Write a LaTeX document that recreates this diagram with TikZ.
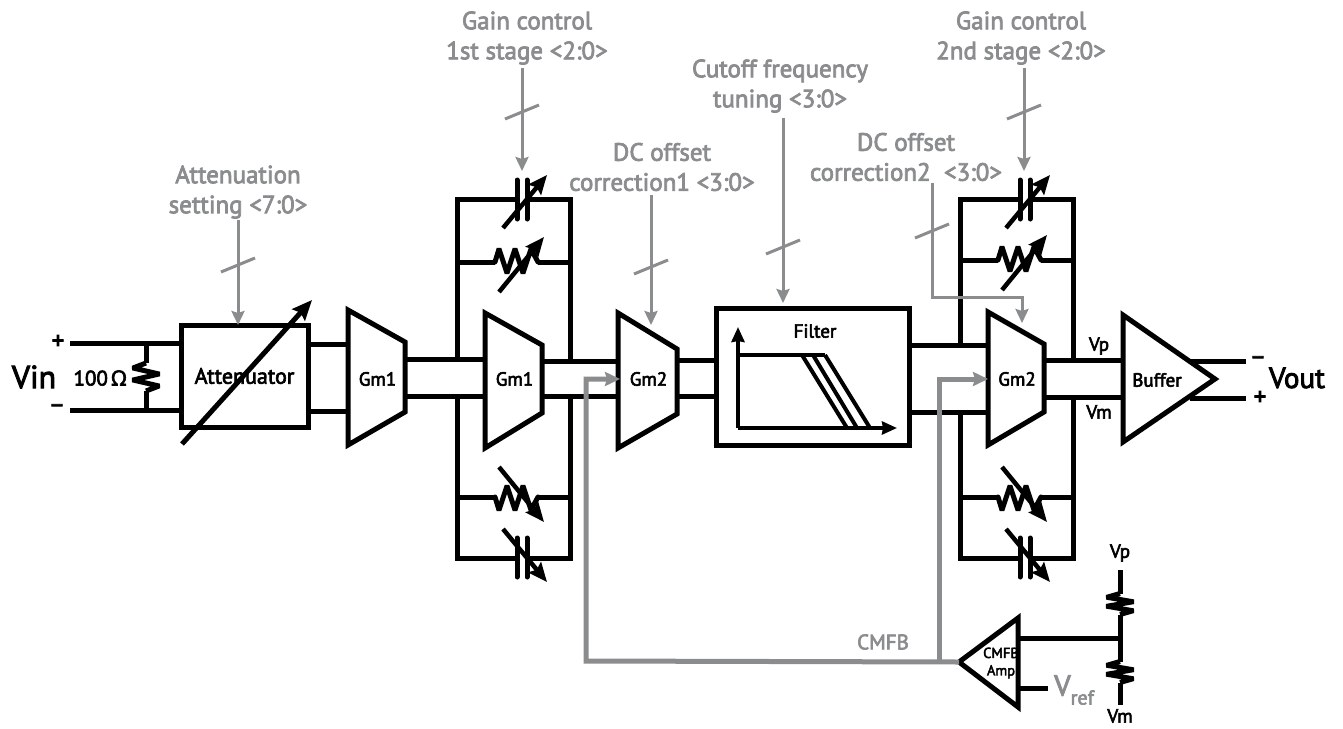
\documentclass[tikz,border=0pt]{standalone}
\usepackage{fontspec}
\setmainfont[FakeBold=3]{PT Sans}
\newfontfamily\omegafont[FakeBold=3]{Noto Sans}
\usetikzlibrary{arrows.meta}
\definecolor{ctrlgray}{HTML}{8A8C8E}
\newcommand{\fsz}[1]{\fontsize{#1}{#1}\selectfont}
\tikzset{
  wire/.style={line width=5pt},
  block/.style={draw,line width=5pt,inner sep=0pt},
  ctrl/.style={draw=ctrlgray,line width=3pt,-{Stealth[length=14pt,width=13pt,inset=2pt]}},
  cmfbline/.style={draw=ctrlgray,line width=5pt,-{Stealth[length=15pt,width=14pt,inset=2pt]}},
  tune/.style={line width=4.5pt,-{Stealth[length=19pt,width=16pt,inset=3pt]}},
  axis/.style={line width=4pt,-{Stealth[length=15pt,width=13pt,inset=1pt]}},
  ctrltext/.style={text=ctrlgray,align=center,font=\fontsize{25}{30}\selectfont,inner sep=0pt},
  amptext/.style={font=\fsz{19},inner sep=0pt},
  pics/varcap/.style={code={
    \coordinate (-a) at (-5,0);
    \coordinate (-b) at (5,0);
    \draw[wire,line cap=round] (-5,-19) -- (-5,20) (5,-19) -- (5,20);
    \draw[tune] (-19,29) -- (25,-24);
  }},
  pics/varres/.style={code={
    \coordinate (-a) at (-21,0);
    \coordinate (-b) at (22,0);
    \draw[wire,rounded corners=1.5pt,line cap=round] (-21,0) -- (-17,-13) -- (-9,11) -- (-1,-13) -- (7,11) -- (15,-13) -- (22,0);
    \draw[tune] (-17,30) -- (28,-25);
  }},
  pics/zigres/.style={code={
    \coordinate (-a) at (0,-14);
    \coordinate (-b) at (0,14);
    \draw[wire,rounded corners=1.5pt] (0,-14) -- (-13,-9) -- (13,-3) -- (-13,3) -- (13,9) -- (0,14);
  }},
  pics/bustick/.style={code={
    \draw[draw=ctrlgray,line width=3pt] (-17,7) -- (17,-7);
  }},
}
\begin{document}
\begin{tikzpicture}[x=1pt,y=-1pt,line join=miter]
  \useasboundingbox (0,0) rectangle (1343,728);
  % input side
  \node[font=\fsz{32},inner sep=0pt] (vin) at (34,377) {Vin};
  \node[font=\fsz{25},inner sep=0pt] (vinplus) at (58,342) {+};
  \node[font=\fsz{25},inner sep=0pt] (vinminus) at (57,409) {−};
  \node[font=\fsz{21},inner sep=0pt] (rload) at (100,378) {100\,{\omegafont Ω}};
  \coordinate (vinp) at (70,343);
  \coordinate (vinm) at (70,410);
  \node[block,minimum width=127pt,minimum height=102pt,font=\fsz{22}] (atten) at (244.5,376) {Attenuator};
  \draw[wire] (vinp) to (vinp -| atten.west);
  \draw[wire] (vinm) to (vinm -| atten.west);
  \coordinate (rp) at (146,343);
  \coordinate (rm) at (146,410);
  \pic (rin) at (146,377) {zigres};
  \draw[wire] (rp) to (rin-a);
  \draw[wire] (rin-b) to (rm);
  \coordinate (attarrow) at (182,444);
  \coordinate (attarrowtip) at (312,300);
  \draw[line width=5pt,-{Stealth[length=20pt,width=17pt,inset=3pt]}] (attarrow) to (attarrowtip);
  % gm stages
  \foreach \n/\xl/\xr/\ya/\yb/\yc/\yd/\ip/\im/\op/\om/\txt in {
      gma/348/405/310/342/412/445/344/411/359/396/Gm1,
      gmb/485/542/313/345/413/448/359/396/361/396/Gm1,
      gmc/618/677/313/349/414/448/361/396/360/396/Gm2,
      gmd/988/1044/312/344/412/445/345/412/360/397/Gm2} {
    \draw[wire] (\xl,\ya) -- (\xr,\yb) -- (\xr,\yc) -- (\xl,\yd) -- cycle;
    \coordinate (\n-ip) at (\xl,\ip);
    \coordinate (\n-im) at (\xl,\im);
    \coordinate (\n-op) at (\xr,\op);
    \coordinate (\n-om) at (\xr,\om);
    \node[amptext] (\n) at ({(\xl+\xr)/2+1},379) {\txt};
  }
  % filter
  \node[block,minimum width=193pt,minimum height=137pt] (filt) at (812.5,376.5) {};
  \node[amptext] (filtname) at (815,331) {Filter};
  \coordinate (axo) at (738,428);
  \coordinate (axy) at (738,327);
  \coordinate (axx) at (897,428);
  \coordinate (flat) at (825,355);
  \coordinate (flato) at (738,355);
  \draw[axis] (axo) to (axy);
  \draw[axis] (axo) to (axx);
  \draw[line width=4pt] (flato) to (flat);
  \foreach \xa/\xb in {802/847,813/857,825/870} {
    \draw[line width=4pt] (\xa,355) -- (\xb,428);
  }
  % buffer
  \coordinate (bufa) at (1123,315);
  \coordinate (bufb) at (1215,379);
  \coordinate (bufc) at (1123,442);
  \draw[wire] (bufa) -- (bufb) -- (bufc) -- cycle;
  \node[amptext] (bufname) at (1157,380) {Buffer};
  \coordinate (bufip) at (1123,360);
  \coordinate (bufim) at (1123,397);
  \coordinate (bufop) at (1190,361);
  \coordinate (bufom) at (1190,398);
  \coordinate (voutm) at (1246,361);
  \coordinate (voutp) at (1246,398);
  \node[font=\fsz{25},inner sep=0pt] (outminus) at (1258,361) {−};
  \node[font=\fsz{25},inner sep=0pt] (outplus) at (1260,398) {+};
  \node[font=\fsz{29},inner sep=0pt] (vout) at (1297,378) {Vout};
  \node[amptext] (vpname) at (1099,346) {Vp};
  \node[amptext] (vmname) at (1099,412) {Vm};
  % signal wires
  \foreach \a/\b in {atten.east |- gma-ip/gma-ip, atten.east |- gma-im/gma-im,
      gma-op/gmb-ip, gma-om/gmb-im, gmb-op/gmc-ip, gmb-om/gmc-im,
      gmc-op/filt.west |- gmc-op, gmc-om/filt.west |- gmc-om,
      filt.east |- gmd-ip/gmd-ip, filt.east |- gmd-im/gmd-im,
      gmd-op/bufip, gmd-om/bufim, bufop/voutm, bufom/voutp} {
    \draw[wire] (\a) to (\b);
  }
  % tunable feedback
  \foreach \dx/\n/\ry/\lu/\ld/\ru/\rd in {0/a/262/359/396/361/396, 503/b/260/345/412/360/397} {
    \begin{scope}[xshift=\dx pt]
      \coordinate (\n-lu) at (457,\lu);
      \coordinate (\n-ru) at (570,\ru);
      \coordinate (\n-ld) at (457,\ld);
      \coordinate (\n-rd) at (570,\rd);
      \coordinate (\n-tl) at (457,199);
      \coordinate (\n-tr) at (570,199);
      \coordinate (\n-ml) at (457,\ry);
      \coordinate (\n-mr) at (570,\ry);
      \coordinate (\n-nl) at (457,497);
      \coordinate (\n-nr) at (570,497);
      \coordinate (\n-bl) at (457,558);
      \coordinate (\n-br) at (570,558);
      \pic (\n-ca) at (522,199) {varcap};
      \pic (\n-ra) at (516,\ry) {varres};
      \pic[yscale=-1] (\n-rb) at (516,497) {varres};
      \pic[yscale=-1] (\n-cb) at (522,558) {varcap};
      \draw[wire] (\n-lu) -- (\n-tl) -- (\n-ca-a);
      \draw[wire] (\n-ru) -- (\n-tr) -- (\n-ca-b);
      \draw[wire] (\n-ml) to (\n-ra-a);
      \draw[wire] (\n-ra-b) to (\n-mr);
      \draw[wire] (\n-nl) to (\n-rb-a);
      \draw[wire] (\n-rb-b) to (\n-nr);
      \draw[wire] (\n-ld) -- (\n-bl) -- (\n-cb-a);
      \draw[wire] (\n-rd) -- (\n-br) -- (\n-cb-b);
    \end{scope}
  }
  % cmfb amp
  \coordinate (ampa) at (1018,618);
  \coordinate (ampb) at (959,662);
  \coordinate (ampc) at (1018,707);
  \draw[wire] (ampa) -- (ampb) -- (ampc) -- cycle;
  \node[font=\fsz{14.5},inner sep=0pt,align=center] (ampname) at (1001,663) {CMFB\\[3pt]Amp};
  \coordinate (ampfb) at (1018,638);
  \coordinate (ampref) at (1018,688);
  \coordinate (vrefend) at (1048,688);
  \coordinate (vmid) at (1120,638);
  \node[amptext] (vptop) at (1120,553) {Vp};
  \node[amptext] (vmbot) at (1120,716) {Vm};
  \coordinate (vpwire) at (1120,570);
  \coordinate (vmwire) at (1120,705);
  \pic[yscale=.75] (rcma) at (1120,604) {zigres};
  \pic[yscale=.75] (rcmb) at (1120,672) {zigres};
  \draw[wire] (vpwire) to (rcma-a);
  \draw[wire] (rcma-b) -- (rcmb-a);
  \draw[wire] (rcmb-b) to (vmwire);
  \draw[wire] (ampfb) to (vmid);
  \draw[wire] (ampref) to (vrefend);
  \node[text=ctrlgray,inner sep=0pt,anchor=west] (vref) at (1054,690) {\fsz{29}V\raisebox{-9pt}{\fsz{20}ref}};
  % control labels
  \node[ctrltext] (attlabel) at (238,192) {Attenuation\\setting <7:0>};
  \node[ctrltext] (gainone) at (527,38) {Gain control\\1st stage <2:0>};
  \node[ctrltext] (dcone) at (662,167) {DC offset\\correction1 <3:0>};
  \node[ctrltext] (cutoff) at (780,86) {Cutoff frequency\\tuning <3:0>};
  \node[ctrltext] (gaintwo) at (1021,38) {Gain control\\2nd stage <2:0>};
  \node[ctrltext] (dctwo) at (906,157) {DC offset\\correction2~~<3:0>};
  \node[text=ctrlgray,font=\fsz{21},inner sep=0pt] (cmfbname) at (883,642) {CMFB};
  % control arrows
  \foreach \n/\x/\ya/\yb/\yt in {att/238/220/325/265, gone/522/68/171/112, dcone/651/195/325/267,
      cut/783/118/303/247, gtwo/1024/68/171/112} {
    \coordinate (\n-from) at (\x,\ya);
    \coordinate (\n-to) at (\x,\yb);
    \draw[ctrl] (\n-from) to (\n-to);
    \pic at (\x,\yt) {bustick};
  }
  \coordinate (dctwofrom) at (932,183);
  \coordinate (dctwobend) at (932,297);
  \coordinate (dctwoend) at (1022,297);
  \coordinate (dctwoto) at (1022,323);
  \draw[ctrl] (dctwofrom) -- (dctwobend) -- (dctwoend) -- (dctwoto);
  \pic at (932,231) {bustick};
  % common mode feedback
  \coordinate (cmfbcorner) at (586,661);
  \coordinate (cmfbup) at (586,379);
  \coordinate (cmfbto) at (620,379);
  \coordinate (cmfbjoin) at (939,661);
  \coordinate (cmfbupb) at (939,379);
  \coordinate (cmfbtob) at (988,379);
  \draw[cmfbline] (ampb) -- (cmfbcorner) -- (cmfbup) -- (cmfbto);
  \draw[cmfbline] (cmfbjoin) -- (cmfbupb) -- (cmfbtob);
\end{tikzpicture}
\end{document}
